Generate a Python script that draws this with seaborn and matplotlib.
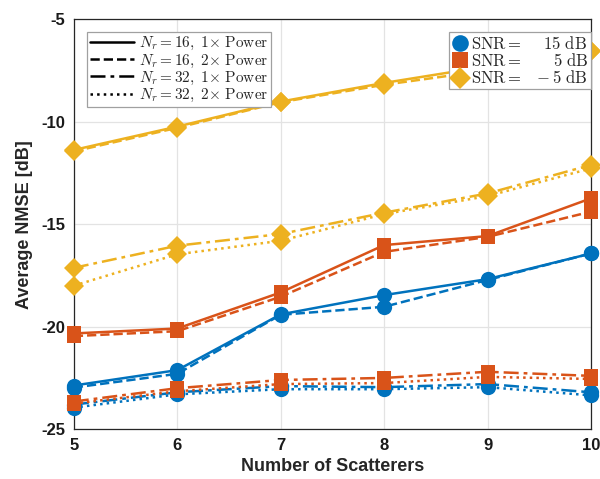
import numpy as np
import pandas as pd
import matplotlib
matplotlib.use("Agg")
import matplotlib.pyplot as plt
from matplotlib.lines import Line2D
import seaborn as sns

# ---------------- data ----------------
scatterers = [5, 6, 7, 8, 9, 10]

# SNR = 15 dB (blue)
snr15_n16_1x = [-22.87, -22.12, -19.40, -18.46, -17.68, -16.43]
snr15_n16_2x = [-22.97, -22.30, -19.42, -19.03, -17.72, -16.43]
snr15_n32_1x = [-23.80, -23.20, -22.90, -22.95, -22.80, -23.20]
snr15_n32_2x = [-23.95, -23.30, -23.05, -23.05, -22.95, -23.35]

# SNR = 5 dB (orange)
snr5_n16_1x = [-20.33, -20.09, -18.33, -16.02, -15.58, -13.74]
snr5_n16_2x = [-20.46, -20.22, -18.54, -16.35, -15.62, -14.39]
snr5_n32_1x = [-23.65, -23.00, -22.60, -22.50, -22.20, -22.40]
snr5_n32_2x = [-23.75, -23.15, -22.80, -22.75, -22.45, -22.55]

# SNR = -5 dB (yellow)
snrm5_n16_1x = [-11.38, -10.24, -9.02, -8.11, -7.30, -6.55]
snrm5_n16_2x = [-11.45, -10.30, -9.05, -8.20, -7.50, -6.55]
snrm5_n32_1x = [-17.13, -16.05, -15.48, -14.44, -13.50, -12.11]
snrm5_n32_2x = [-18.00, -16.47, -15.81, -14.51, -13.63, -12.28]

config_labels = [r"$N_r=16,\ 1{\times}\ \mathrm{Power}$",
                 r"$N_r=16,\ 2{\times}\ \mathrm{Power}$",
                 r"$N_r=32,\ 1{\times}\ \mathrm{Power}$",
                 r"$N_r=32,\ 2{\times}\ \mathrm{Power}$"]
snr_labels = [r"$\mathrm{SNR}{=}\quad\ 15\ \mathrm{dB}$",
              r"$\mathrm{SNR}{=}\qquad 5\ \mathrm{dB}$",
              r"$\mathrm{SNR}{=}\ \ -5\ \mathrm{dB}$"]
y_ticks = [-25, -20, -15, -10, -5]
x_ticks = [5, 6, 7, 8, 9, 10]

# ---------------- style ----------------
sns.set_theme(style="white")
plt.rcParams["font.family"] = ["Liberation Sans", "DejaVu Sans"]
plt.rcParams["mathtext.fontset"] = "cm"
plt.rcParams["axes.unicode_minus"] = False

colors = ["#0072BD", "#D95319", "#EDB120"]
markers = ["o", "s", "D"]
msizes = [11, 10, 10]
styles = ["-", "--", (0, (6, 2, 1.5, 2)), ":"]

groups = [
    [snr15_n16_1x, snr15_n16_2x, snr15_n32_1x, snr15_n32_2x],
    [snr5_n16_1x, snr5_n16_2x, snr5_n32_1x, snr5_n32_2x],
    [snrm5_n16_1x, snrm5_n16_2x, snrm5_n32_1x, snrm5_n32_2x],
]

fig = plt.figure(figsize=(6.0, 4.79), dpi=100)
ax = fig.add_axes([0.123, 0.104, 0.862, 0.856])

for gi, series_list in enumerate(groups):
    for si, vals in enumerate(series_list):
        df = pd.DataFrame({"x": scatterers, "y": vals})
        sns.lineplot(data=df, x="x", y="y", ax=ax, color=colors[gi],
                     linestyle=styles[si], linewidth=1.8,
                     marker=markers[gi], markersize=msizes[gi],
                     markeredgewidth=0, legend=False, clip_on=False,
                     zorder=3)

ax.set_xlim(5, 10)
ax.set_ylim(-25, -5)
ax.set_xticks(x_ticks)
ax.set_yticks(y_ticks)
ax.set_xticklabels([str(t) for t in x_ticks], fontsize=12, fontweight="bold")
ax.set_yticklabels([str(t) for t in y_ticks], fontsize=12, fontweight="bold")
ax.set_xlabel("Number of Scatterers", fontsize=13, fontweight="bold", labelpad=4)
ax.set_ylabel("Average NMSE [dB]", fontsize=13, fontweight="bold", labelpad=6)
ax.grid(True, color="#E3E3E3", linewidth=0.9)
ax.set_axisbelow(True)
for sp in ax.spines.values():
    sp.set_visible(True)
    sp.set_color("#262626")
    sp.set_linewidth(0.9)
ax.tick_params(direction="in", length=5, width=0.9, colors="#262626",
               top=False, right=False, pad=6)
for lbl in ax.get_xticklabels() + ax.get_yticklabels():
    lbl.set_color("#1a1a1a")

# legend 1: line styles
h1 = [Line2D([0], [0], color="black", linestyle=styles[i], linewidth=1.8)
      for i in range(4)]
leg1 = ax.legend(h1, config_labels, loc="upper left",
                 bbox_to_anchor=(0.025, 0.968), fontsize=11,
                 frameon=True, fancybox=False, edgecolor="#A0A0A0",
                 framealpha=1, handlelength=2.9, handletextpad=0.3,
                 borderpad=0.2, labelspacing=0.0, borderaxespad=0)
leg1.get_frame().set_linewidth(0.9)
leg1.set_zorder(5)
ax.add_artist(leg1)

# legend 2: SNR markers
h2 = [Line2D([0], [0], color=colors[i], linestyle="none", marker=markers[i],
             markersize=msizes[i] + 1, markeredgewidth=0) for i in range(3)]
leg2 = ax.legend(h2, snr_labels, loc="upper right",
                 bbox_to_anchor=(1.0, 0.968), fontsize=12,
                 frameon=True, fancybox=False, edgecolor="#A0A0A0",
                 framealpha=1, handlelength=1.0, handletextpad=0.15,
                 borderpad=0.15, labelspacing=0.02, borderaxespad=0)
leg2.get_frame().set_linewidth(0.9)
leg2.set_zorder(5)

fig.savefig("out.png", dpi=100)
